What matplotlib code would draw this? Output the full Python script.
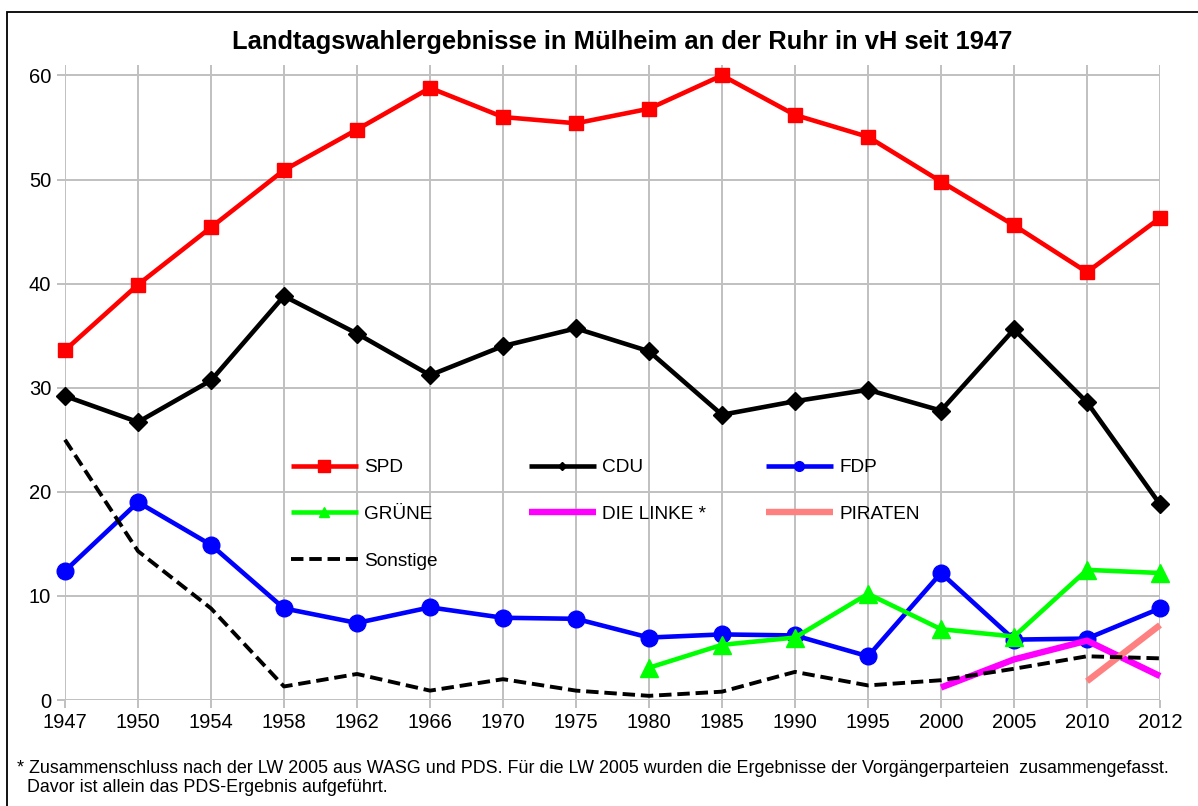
import matplotlib
matplotlib.use("Agg")
import matplotlib.pyplot as plt
from matplotlib.lines import Line2D
from matplotlib.patches import Rectangle

# election years (categorical axis)
years = ["1947", "1950", "1954", "1958", "1962", "1966", "1970", "1975",
         "1980", "1985", "1990", "1995", "2000", "2005", "2010", "2012"]

spd = [33.6, 39.9, 45.4, 50.9, 54.8, 58.8, 56.0, 55.4,
       56.8, 60.0, 56.2, 54.1, 49.8, 45.6, 41.1, 46.3]
cdu = [29.2, 26.7, 30.7, 38.8, 35.2, 31.2, 34.0, 35.7,
       33.5, 27.4, 28.7, 29.8, 27.8, 35.6, 28.6, 18.8]
fdp = [12.4, 19.0, 14.9, 8.8, 7.4, 8.9, 7.9, 7.8,
       6.0, 6.3, 6.2, 4.2, 12.2, 5.8, 5.9, 8.8]
# parties that only exist for later elections: index of first year + values
gruene_start = 8
gruene = [3.1, 5.3, 6.0, 10.2, 6.8, 6.1, 12.5, 12.2]
linke_start = 12
linke = [1.2, 3.9, 5.7, 2.3]
piraten_start = 14
piraten = [1.8, 7.2]
sonstige = [25.0, 14.3, 8.8, 1.3, 2.5, 0.9, 2.0, 0.9,
            0.4, 0.8, 2.7, 1.4, 1.9, 3.0, 4.2, 4.0]

title = "Landtagswahlergebnisse in Mülheim an der Ruhr in vH seit 1947"
footnote = ("* Zusammenschluss nach der LW 2005 aus WASG und PDS. Für die LW 2005 "
            "wurden die Ergebnisse der Vorgängerparteien  zusammengefasst.\n"
            "  Davor ist allein das PDS-Ergebnis aufgeführt.")

plt.rcParams['font.family'] = ['Liberation Sans', 'DejaVu Sans']

W, H = 1198, 806
fig = plt.figure(figsize=(W / 100, H / 100), dpi=100)
ax = fig.add_axes([65 / W, 1 - 700 / H, (1160 - 65) / W, (700 - 65) / H])

x = list(range(len(years)))
LW = 3.3
dash = (0, (3.2, 1.5))

ax.plot(x, spd, color="#FF0000", lw=LW, marker="s", ms=10.5, zorder=3, clip_on=False)
ax.plot(x, cdu, color="#000000", lw=LW, marker="D", ms=9.5, zorder=3, clip_on=False)
ax.plot(x, fdp, color="#0000FF", lw=LW, marker="o", ms=12, zorder=3, clip_on=False)
ax.plot(x[gruene_start:], gruene, color="#00FF00", lw=LW, marker="^", ms=13,
        zorder=3, clip_on=False)
ax.plot(x[linke_start:], linke, color="#FF00FF", lw=4.6, solid_capstyle="butt",
        zorder=3, clip_on=False)
ax.plot(x[piraten_start:], piraten, color="#FF8080", lw=4.6, solid_capstyle="butt",
        zorder=3, clip_on=False)
ax.plot(x, sonstige, color="#000000", lw=2.8, ls=dash,
        dash_capstyle="butt", zorder=3, clip_on=False)

ax.set_xlim(0, len(years) - 1)
ax.set_ylim(0, 61)
ax.set_xticks(x)
ax.set_xticklabels(years)
ax.set_yticks(range(0, 61, 10))
ax.grid(True, color="#C0C0C0", lw=1.4, zorder=1)
ax.set_axisbelow(True)
for s in ax.spines.values():
    s.set_visible(False)
ax.tick_params(axis="both", colors="#C0C0C0", width=1.4, length=6,
               labelcolor="black", labelsize=14.5)
ax.tick_params(axis="x", pad=3)
ax.tick_params(axis="y", pad=4)

fig.text(622 / W, 1 - 42 / H, title, ha="center", va="center",
         fontsize=18.4, fontweight="bold")

# legend: three independent columns so the column pitch is fixed
def proxy(color, lw=LW, marker=None, ms=0, ls="-"):
    return Line2D([], [], color=color, lw=lw, marker=marker, ms=ms, ls=ls,
                  dash_capstyle="butt", solid_capstyle="butt")

columns = [
    ([proxy("#FF0000", marker="s", ms=9), proxy("#00FF00", marker="^", ms=7),
      proxy("#000000", lw=2.8, ls=dash)],
     ["SPD", "GRÜNE", "Sonstige"], 291),
    ([proxy("#000000", marker="D", ms=4.5), proxy("#FF00FF", lw=4.6)],
     ["CDU", "DIE LINKE *"], 529),
    ([proxy("#0000FF", marker="o", ms=7), proxy("#FF8080", lw=4.6)],
     ["FDP", "PIRATEN"], 766),
]
for handles, labels, px in columns:
    fig.legend(handles, labels, loc="upper left",
               bbox_to_anchor=(px / W, 1 - 459 / H), bbox_transform=fig.transFigure,
               frameon=False, fontsize=13.7, handlelength=3.5, handletextpad=0.35,
               labelspacing=1.54, borderpad=0, borderaxespad=0)

fig.text(17 / W, 1 - 778 / H, footnote, ha="left", va="center",
         fontsize=12.9, linespacing=1.12)

# outer frame of the chart area (right and bottom edges are cut off)
fig.patches.append(Rectangle((7 / W, -0.1), 1.2, 1 - 12 / H + 0.1,
                             transform=fig.transFigure, fill=False,
                             edgecolor="black", lw=1.3))

fig.savefig("out.png", dpi=100)
